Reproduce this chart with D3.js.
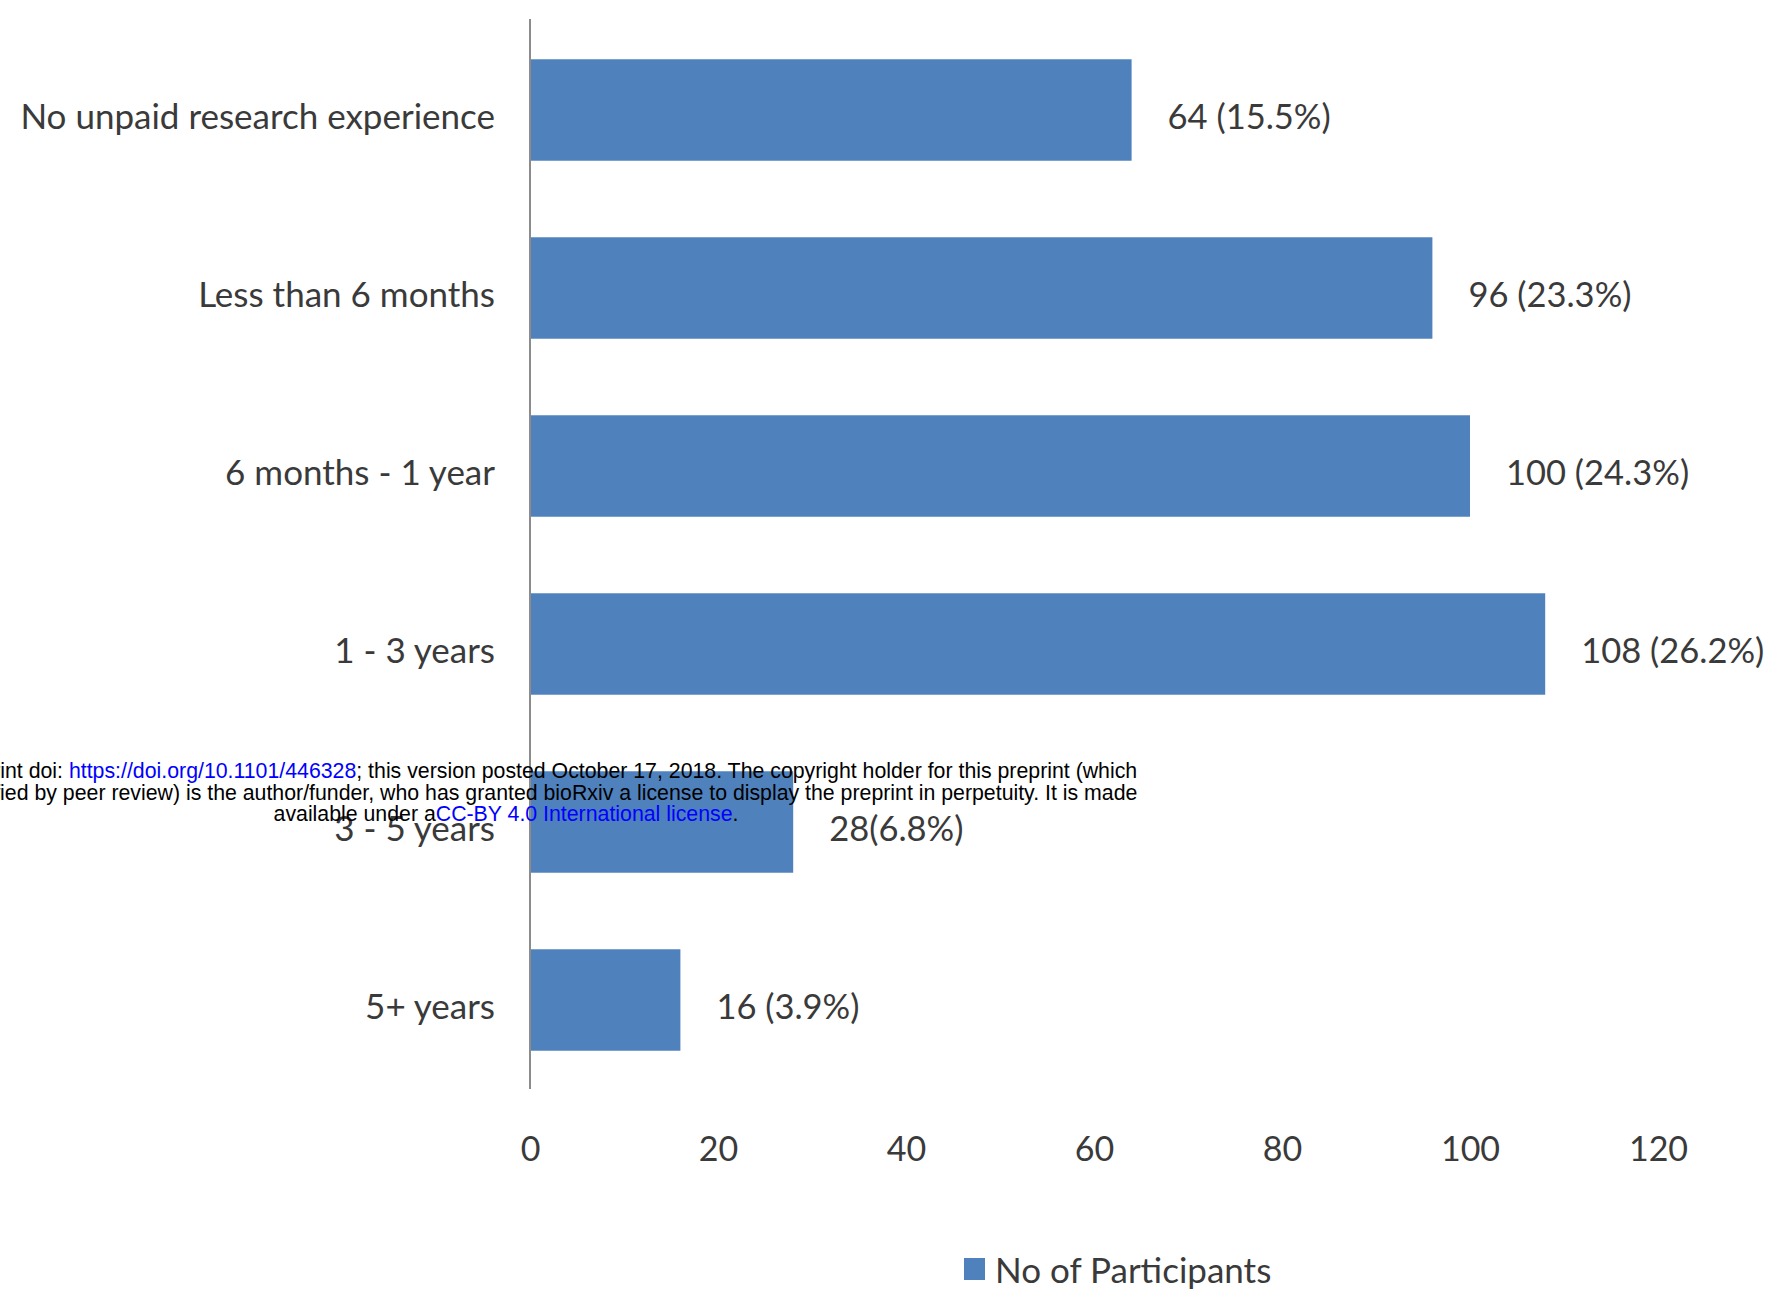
<!DOCTYPE html>
<html><head><meta charset="utf-8">
<script src="https://cdn.jsdelivr.net/npm/d3@7"></script>
<style>html,body{margin:0;padding:0;background:#fff;}svg{display:block;}</style>
</head><body>
<svg id="chart" width="1785" height="1295"></svg>
<script>
const categories = ["No unpaid research experience","Less than 6 months","6 months - 1 year","1 - 3 years","3 - 5 years","5+ years"];
const values = [64, 96, 100, 108, 28, 16];
const valueLabels = ["64 (15.5%)","96 (23.3%)","100 (24.3%)","108 (26.2%)","28(6.8%)","16 (3.9%)"];
const xTicks = [0, 20, 40, 60, 80, 100, 120];
const seriesName = "No of Participants";
const watermarkLines = [
  [["bioRxiv preprint doi: ","#000"],["https://doi.org/10.1101/446328","#0000ff"],["; this version posted October 17, 2018. The copyright holder for this preprint (which","#000"]],
  [["was not certified by peer review) is the author/funder, who has granted bioRxiv a license to display the preprint in perpetuity. It is made","#000"]],
  [["available under a","#000"],["CC-BY 4.0 International license","#0000ff"],[".","#000"]]
];

const svg = d3.select("#chart");
const font = "Lato, 'Open Sans', sans-serif";
const textCol = "#3a3a3a";
const barCol = "#4f81bd";

const x = d3.scaleLinear().domain([0, 120]).range([530, 1658]);
const y = d3.scaleBand().domain(categories).range([21, 1089]).paddingInner(0.43).paddingOuter(0.215);

// bars
svg.append("g").selectAll("rect").data(values).join("rect")
  .attr("x", x(0)).attr("y", (d,i) => y(categories[i]))
  .attr("width", d => x(d) - x(0)).attr("height", y.bandwidth())
  .attr("fill", barCol);

// vertical axis line
svg.append("line").attr("x1", x(0)).attr("x2", x(0)).attr("y1", 19).attr("y2", 1089)
  .attr("stroke", "#8c8c8c").attr("stroke-width", 2);

// category labels
svg.append("g").selectAll("text").data(categories).join("text")
  .attr("x", x(0) - 35).attr("y", d => y(d) + y.bandwidth()/2 + 5)
  .attr("text-anchor", "end").attr("dominant-baseline", "central")
  .attr("font-family", font).attr("font-size", 35).attr("fill", textCol)
  .text(d => d);

// value labels
svg.append("g").selectAll("text").data(values).join("text")
  .attr("x", d => x(d) + 36).attr("y", (d,i) => y(categories[i]) + y.bandwidth()/2 + 5)
  .attr("dominant-baseline", "central")
  .attr("font-family", font).attr("font-size", 34.5).attr("fill", textCol)
  .text((d,i) => valueLabels[i]);

// x axis tick labels
const xAxis = d3.axisBottom(x).tickValues(xTicks).tickSize(0).tickPadding(0).tickFormat(d3.format("d"));
const gx = svg.append("g").attr("transform", "translate(0,1137)").call(xAxis);
gx.select(".domain").remove();
gx.selectAll("text").attr("font-family", font).attr("font-size", 34).attr("fill", textCol);

// legend
const lg = svg.append("g").attr("transform", "translate(964,1269)");
lg.append("rect").attr("x", 0).attr("y", -11).attr("width", 21).attr("height", 22).attr("fill", barCol);
lg.append("text").attr("x", 31).attr("y", 0).attr("dominant-baseline", "central")
  .attr("font-family", font).attr("font-size", 35).attr("fill", textCol).text(seriesName);

// watermark overlay
const wm = svg.append("g");
watermarkLines.forEach((parts, i) => {
  const t = wm.append("text").attr("x", 506).attr("y", 778 + i*21.5)
    .attr("text-anchor", "middle").attr("font-family", "'Liberation Sans', Arial, sans-serif")
    .attr("font-size", 21.3);
  parts.forEach(p => t.append("tspan").attr("fill", p[1]).text(p[0]));
});
</script>
</body></html>
